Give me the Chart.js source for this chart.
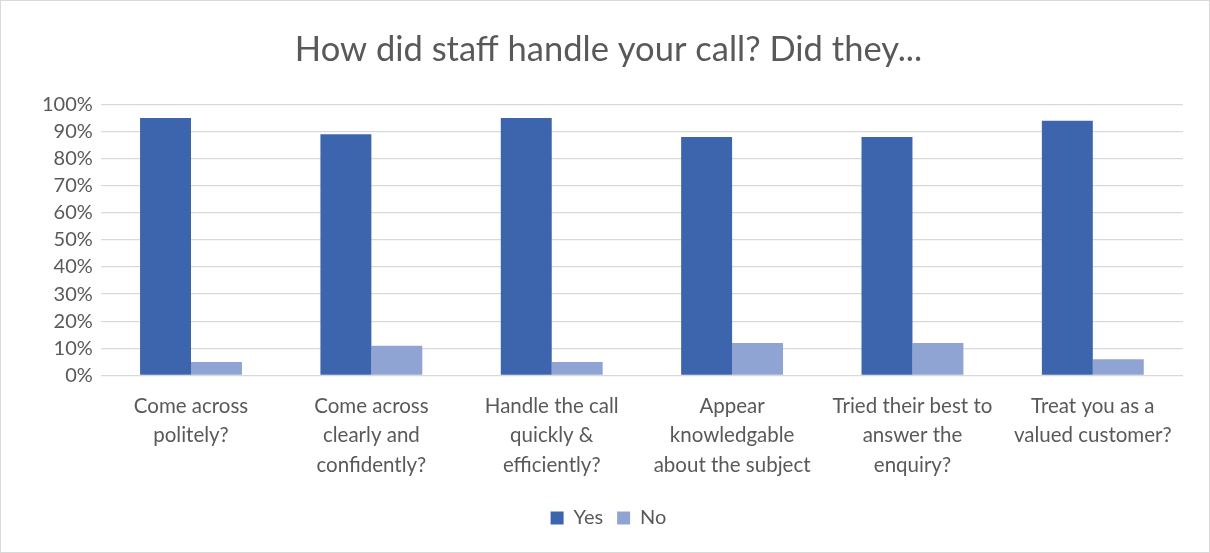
<!DOCTYPE html>
<html>
<head>
<meta charset="utf-8">
<script src="https://cdn.jsdelivr.net/npm/chart.js@4/dist/chart.umd.min.js"></script>
<style>
  html, body { margin: 0; padding: 0; background: #ffffff; }
  #wrap { position: absolute; left: 0; top: 0; width: 1208px; height: 551px; border: 1px solid #d9d9d9; background: #fff; }
  canvas { display: block; }
</style>
</head>
<body>
<div id="wrap"><canvas id="c" width="1208" height="551"></canvas></div>
<script>
// Survey questions (wrapped over several lines) and answer shares in percent
const questions = [
  ["Come across", "politely?"],
  ["Come across", "clearly and", "confidently?"],
  ["Handle the call", "quickly &", "efficiently?"],
  ["Appear", "knowledgable", "about the subject"],
  ["Tried their best to", "answer the", "enquiry?"],
  ["Treat you as a", "valued customer?"]
];
const yesShare = [95, 89, 95, 88, 88, 94];
const noShare  = [5, 11, 5, 12, 12, 6];
const yTicks = [0, 10, 20, 30, 40, 50, 60, 70, 80, 90, 100];

const FONT = "Lato, 'Open Sans', sans-serif";
const GREY_TEXT = "#595959";

new Chart(document.getElementById("c"), {
  type: "bar",
  data: {
    labels: questions,
    datasets: [
      { label: "Yes", data: yesShare, backgroundColor: "#3d65ad", borderWidth: 0 },
      { label: "No",  data: noShare,  backgroundColor: "#90a4d4", borderWidth: 0 }
    ]
  },
  options: {
    responsive: false,
    animation: false,
    devicePixelRatio: 1,
    layout: { padding: { left: 33, right: 26, top: 0, bottom: 14 } },
    datasets: { bar: { categoryPercentage: 0.565, barPercentage: 1.0 } },
    plugins: {
      title: {
        display: true,
        text: "How did staff handle your call? Did they...",
        color: GREY_TEXT,
        font: { family: FONT, size: 34.5, weight: "normal" },
        padding: { top: 28, bottom: 34 }
      },
      legend: {
        position: "bottom",
        labels: {
          color: GREY_TEXT,
          font: { family: FONT, size: 20 },
          boxWidth: 13,
          boxHeight: 13,
          padding: 14
        }
      },
      tooltip: { enabled: false }
    },
    scales: {
      x: {
        grid: { display: false },
        border: { display: false },
        afterFit: (axis) => { axis.height += 6; },
        ticks: {
          color: GREY_TEXT,
          font: { family: FONT, size: 20.5, lineHeight: 1.44 },
          autoSkip: false,
          maxRotation: 0,
          minRotation: 0,
          padding: 8
        }
      },
      y: {
        min: 0,
        max: 100,
        afterBuildTicks: (axis) => { axis.ticks = yTicks.map(v => ({ value: v })); },
        grid: { color: "#d9d9d9", lineWidth: 1.3, drawTicks: false },
        border: { display: false },
        ticks: {
          color: GREY_TEXT,
          font: { family: FONT, size: 20 },
          padding: 8,
          callback: (v) => v + "%"
        }
      }
    }
  }
});
</script>
</body>
</html>
